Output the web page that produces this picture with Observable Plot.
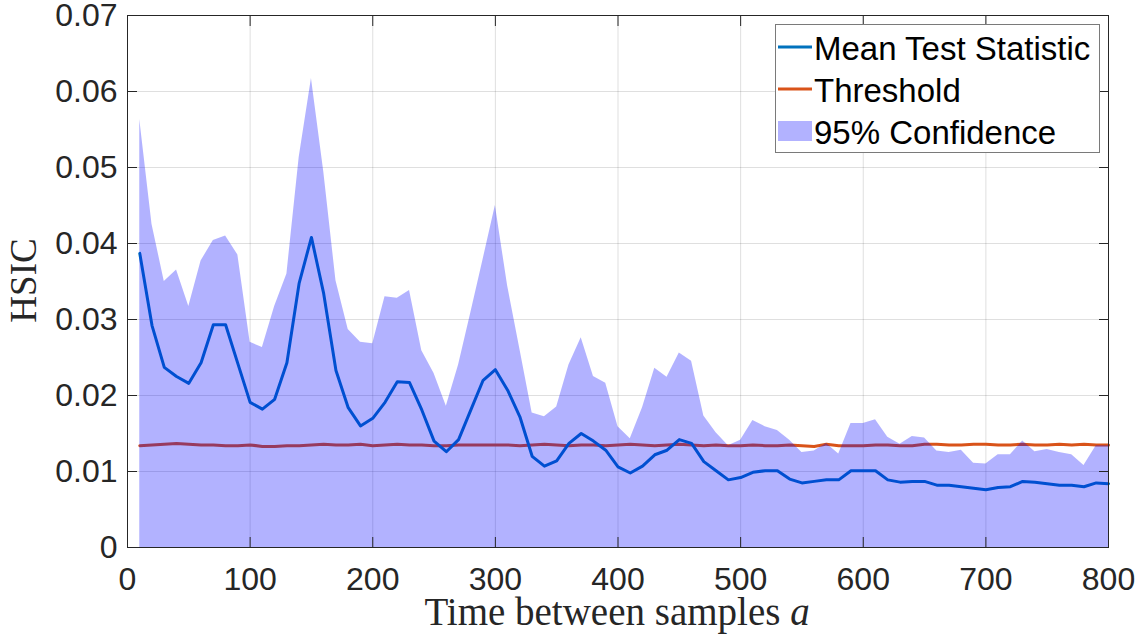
<!DOCTYPE html>
<html>
<head>
<meta charset="utf-8">
<script src="https://cdn.jsdelivr.net/npm/d3@7"></script>
<script src="https://cdn.jsdelivr.net/npm/@observablehq/plot@0.6"></script>
<style>
  html, body { margin: 0; padding: 0; background: #fff; }
  #chart { position: relative; width: 1138px; height: 634px; }
</style>
</head>
<body>
<div id="chart"></div>
<script>
// ---- data ----
const timeGap = [
  10, 20, 30, 40, 50, 60, 70, 80, 90, 100,
  110, 120, 130, 140, 150, 160, 170, 180, 190, 200,
  210, 220, 230, 240, 250, 260, 270, 280, 290, 300,
  310, 320, 330, 340, 350, 360, 370, 380, 390, 400,
  410, 420, 430, 440, 450, 460, 470, 480, 490, 500,
  510, 520, 530, 540, 550, 560, 570, 580, 590, 600,
  610, 620, 630, 640, 650, 660, 670, 680, 690, 700,
  710, 720, 730, 740, 750, 760, 770, 780, 790, 800
];
const meanStat = [
  0.0387, 0.0292, 0.0237, 0.0225, 0.0216, 0.0243, 0.0293, 0.0293, 0.0242, 0.0191,
  0.0182, 0.0195, 0.0243, 0.0348, 0.0408, 0.0334, 0.0233, 0.0184, 0.0160, 0.0170,
  0.0191, 0.0218, 0.0217, 0.0181, 0.0140, 0.0126, 0.0142, 0.0181, 0.0220, 0.0234,
  0.0207, 0.0172, 0.0120, 0.0107, 0.0114, 0.0137, 0.0150, 0.0140, 0.0128, 0.0106,
  0.0098, 0.0107, 0.0122, 0.0128, 0.0142, 0.0137, 0.0113, 0.0101, 0.0089, 0.0092,
  0.0099, 0.0101, 0.0101, 0.0090, 0.0085, 0.0087, 0.0089, 0.0089, 0.0101, 0.0101,
  0.0101, 0.0089, 0.0086, 0.0087, 0.0087, 0.0082, 0.0082, 0.0080, 0.0078, 0.0076,
  0.0079, 0.0080, 0.0087, 0.0086, 0.0084, 0.0082, 0.0082, 0.0080, 0.0085, 0.0084
];
const threshold = [
  0.0134, 0.0135, 0.0136, 0.0137, 0.0136, 0.0135, 0.0135, 0.0134, 0.0134, 0.0135,
  0.0133, 0.0133, 0.0134, 0.0134, 0.0135, 0.0136, 0.0135, 0.0135, 0.0136, 0.0134,
  0.0135, 0.0136, 0.0135, 0.0135, 0.0134, 0.0134, 0.0135, 0.0135, 0.0135, 0.0135,
  0.0135, 0.0134, 0.0135, 0.0136, 0.0135, 0.0134, 0.0135, 0.0135, 0.0134, 0.0135,
  0.0136, 0.0135, 0.0134, 0.0135, 0.0136, 0.0135, 0.0134, 0.0135, 0.0134, 0.0134,
  0.0135, 0.0134, 0.0134, 0.0135, 0.0134, 0.0133, 0.0136, 0.0134, 0.0134, 0.0134,
  0.0135, 0.0135, 0.0134, 0.0134, 0.0136, 0.0136, 0.0135, 0.0135, 0.0136, 0.0136,
  0.0135, 0.0135, 0.0136, 0.0135, 0.0135, 0.0136, 0.0135, 0.0136, 0.0135, 0.0135
];
const upperCI = [
  0.0563, 0.0425, 0.0350, 0.0365, 0.0317, 0.0377, 0.0404, 0.0410, 0.0385, 0.0270,
  0.0263, 0.0317, 0.0360, 0.0513, 0.0617, 0.0495, 0.0351, 0.0287, 0.0270, 0.0268,
  0.0330, 0.0328, 0.0338, 0.0259, 0.0229, 0.0186, 0.0240, 0.0309, 0.0379, 0.0450,
  0.0344, 0.0261, 0.0177, 0.0172, 0.0185, 0.0240, 0.0276, 0.0225, 0.0216, 0.0159,
  0.0143, 0.0184, 0.0236, 0.0224, 0.0256, 0.0245, 0.0173, 0.0151, 0.0134, 0.0141,
  0.0167, 0.0159, 0.0154, 0.0141, 0.0125, 0.0127, 0.0137, 0.0123, 0.0163, 0.0163,
  0.0168, 0.0145, 0.0136, 0.0146, 0.0144, 0.0127, 0.0125, 0.0128, 0.0111, 0.0110,
  0.0122, 0.0122, 0.0140, 0.0126, 0.0129, 0.0125, 0.0122, 0.0108, 0.0134, 0.0134
];
const xTicks = [0, 100, 200, 300, 400, 500, 600, 700, 800];
const yTicks = [0, 0.01, 0.02, 0.03, 0.04, 0.05, 0.06, 0.07];
const yTickLabels = ["0", "0.01", "0.02", "0.03", "0.04", "0.05", "0.06", "0.07"];
const legendLabels = ["Mean Test Statistic", "Threshold", "95% Confidence"];
const xLabel = "Time between samples";
const xLabelVar = "a";
const yLabel = "HSIC";

const data = timeGap.map((t, i) => ({t, mean: meanStat[i], thr: threshold[i], upper: upperCI[i]}));

const axisColor = "#262626";
const sans = "'Liberation Sans', Arial, Helvetica, sans-serif";
const serif = "'Liberation Serif', 'Times New Roman', serif";

const plot = Plot.plot({
  width: 1138,
  height: 634,
  marginLeft: 127,
  marginRight: 30,
  marginTop: 15,
  marginBottom: 87,
  style: {fontFamily: sans, background: "#fff", color: axisColor},
  x: {domain: [0, 800]},
  y: {domain: [0, 0.07]},
  marks: [
    Plot.gridX(xTicks, {stroke: axisColor, strokeOpacity: 0.15}),
    Plot.gridY(yTicks, {stroke: axisColor, strokeOpacity: 0.15}),
    Plot.line(data, {x: "t", y: "thr", stroke: "#D95319", strokeWidth: 3}),
    Plot.line(data, {x: "t", y: "mean", stroke: "#0072BD", strokeWidth: 3}),
    Plot.areaY(data, {x: "t", y: "upper", fill: "#0000ff", fillOpacity: 0.3}),
    Plot.frame({stroke: axisColor, strokeWidth: 1}),
    // inward ticks on all four sides
    Plot.axisX(xTicks, {anchor: "bottom", tickSize: -10, fill: "none", stroke: axisColor, label: null}),
    Plot.axisX(xTicks, {anchor: "top", tickSize: -10, fill: "none", stroke: axisColor, label: null}),
    Plot.axisY(yTicks, {anchor: "left", tickSize: -10, fill: "none", stroke: axisColor, label: null}),
    Plot.axisY(yTicks, {anchor: "right", tickSize: -10, fill: "none", stroke: axisColor, label: null}),
    // tick labels
    Plot.axisX(xTicks, {anchor: "bottom", tickSize: 0, tickPadding: 20, fontSize: 32, label: null, tickFormat: d => String(d), fill: axisColor}),
    Plot.axisY(yTicks, {anchor: "left", tickSize: 0, tickPadding: 10, fontSize: 32, label: null, tickFormat: (d, i) => yTickLabels[i], fill: axisColor}),
    // axis titles
    Plot.text([xLabel], {text: d => d, frameAnchor: "bottom", textAnchor: "middle", lineAnchor: "middle", dx: -1, dy: 65, fontFamily: serif, fontSize: 39, fill: axisColor}),
    Plot.text([yLabel], {text: d => d, frameAnchor: "left", textAnchor: "middle", lineAnchor: "middle", rotate: -90, dx: -103, dy: -1, fontFamily: serif, fontSize: 37, fill: axisColor})
  ]
});

document.getElementById("chart").appendChild(plot);

// italic variable in the x label
const svg = d3.select(plot);
svg.selectAll("text").filter(function() { return this.textContent === xLabel; })
  .append("tspan").attr("font-style", "italic").text(" " + xLabelVar);

// legend
const lg = svg.append("g").attr("font-family", sans).attr("font-size", 33).attr("fill", "#000").attr("text-anchor", "start");
lg.append("rect").attr("x", 775.5).attr("y", 24.5).attr("width", 324).attr("height", 128)
  .attr("fill", "#fff").attr("stroke", "#7a7a7a").attr("stroke-width", 1);
const rows = [60, 102, 144];
lg.append("line").attr("x1", 778).attr("x2", 812).attr("y1", 47).attr("y2", 47).attr("stroke", "#0072BD").attr("stroke-width", 3);
lg.append("line").attr("x1", 778).attr("x2", 812).attr("y1", 89).attr("y2", 89).attr("stroke", "#D95319").attr("stroke-width", 3);
lg.append("rect").attr("x", 778).attr("y", 121).attr("width", 34).attr("height", 20).attr("fill", "#0000ff").attr("fill-opacity", 0.3);
legendLabels.forEach((s, i) => lg.append("text").attr("x", 814).attr("y", rows[i]).text(s));
</script>
</body>
</html>
